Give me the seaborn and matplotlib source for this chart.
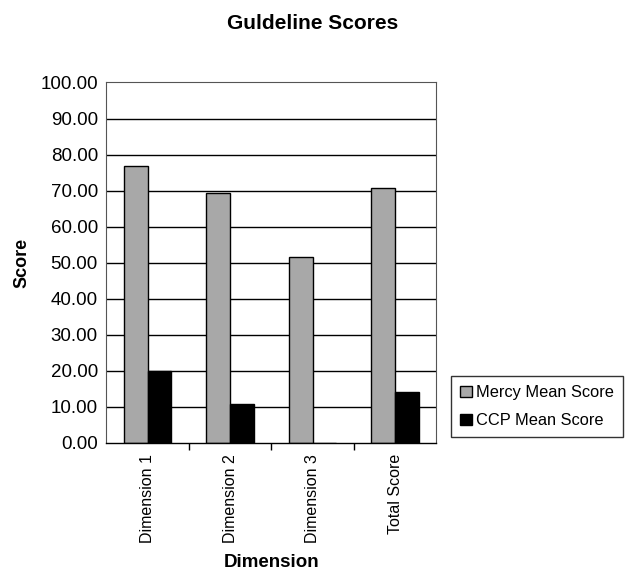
import matplotlib
matplotlib.use("Agg")
import matplotlib.pyplot as plt
import seaborn as sns
import pandas as pd
import numpy as np

categories = ["Dimension 1", "Dimension 2", "Dimension 3", "Total Score"]
series_names = ["Mercy Mean Score", "CCP Mean Score"]
mercy = [76.7, 69.3, 51.5, 70.6]
ccp = [20.0, 10.8, 0.0, 14.1]
y_ticks = [0, 10, 20, 30, 40, 50, 60, 70, 80, 90, 100]

df = pd.DataFrame({
    "Dimension": categories * 2,
    "Score": mercy + ccp,
    "Series": [series_names[0]] * 4 + [series_names[1]] * 4,
})

sns.set_theme(style="white")
plt.rcParams["font.family"] = ["Liberation Sans", "DejaVu Sans"]
plt.rcParams["text.color"] = "black"
plt.rcParams["axes.labelcolor"] = "black"
plt.rcParams["xtick.color"] = "black"
plt.rcParams["ytick.color"] = "black"

fig = plt.figure(figsize=(6.25, 5.75), dpi=100)
ax = fig.add_axes([0.17, 0.2296, 0.528, 0.627])

for y in y_ticks[1:-1]:
    ax.axhline(y, color="black", lw=1.0, zorder=0)

sns.barplot(data=df, x="Dimension", y="Score", hue="Series",
            palette=["#a8a8a8", "#000000"], width=0.58, ax=ax,
            edgecolor="black", linewidth=1.0, saturation=1, zorder=2)

ax.set_ylim(0, 100)
ax.set_xlim(-0.5, 3.5)
ax.set_yticks(y_ticks)
ax.set_yticklabels([f"{v:.2f}" for v in y_ticks], fontsize=13.5)
ax.set_xticks(range(4))
ax.set_xticklabels(categories, rotation=90, fontsize=11.5)
ax.tick_params(axis="x", length=0, pad=8)
ax.set_xticks([0.5, 1.5, 2.5], minor=True)
ax.tick_params(axis="x", which="minor", length=5, color="black", bottom=True)
ax.tick_params(axis="y", length=0, pad=6)

for s in ["left", "right", "top"]:
    ax.spines[s].set_linestyle((0, (1, 1)))
    ax.spines[s].set_color("#555555")
    ax.spines[s].set_linewidth(0.8)
ax.spines["bottom"].set_color("black")
ax.spines["bottom"].set_linewidth(1.0)

ax.set_xlabel("Dimension", fontsize=13.5, fontweight="bold", labelpad=8)
ax.set_ylabel("Score", fontsize=13, fontweight="bold", labelpad=7)
fig.suptitle("Guldeline Scores", x=0.5, y=0.975, fontsize=15, fontweight="bold")

leg = ax.legend(loc="center left", bbox_to_anchor=(1.046, 0.1), frameon=True,
                fontsize=11.8, handlelength=0.7, handleheight=0.7,
                handletextpad=0.25, borderpad=0.55, borderaxespad=0.0,
                labelspacing=0.8, fancybox=False)
leg.get_frame().set_edgecolor("black")
leg.get_frame().set_linewidth(1.0)

fig.savefig("out.png", dpi=100)
